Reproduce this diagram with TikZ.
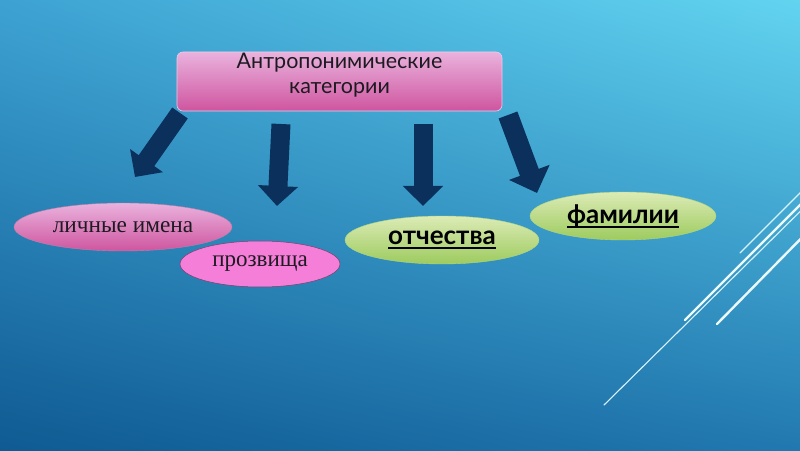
\documentclass[tikz,border=0pt]{standalone}
\usepackage{fontspec}
\setmainfont{Liberation Serif}
\newfontfamily\latofont{Lato}
\usetikzlibrary{shapes.geometric,arrows.meta,shadings}
\definecolor{bgUL}{HTML}{3DA2D2}
\definecolor{bgUR}{HTML}{62D4F0}
\definecolor{bgLL}{HTML}{0F5A92}
\definecolor{bgLR}{HTML}{2178B0}
\definecolor{navyc}{HTML}{0B305C}
\definecolor{pinktop}{HTML}{E9B2DD}
\definecolor{pinkbot}{HTML}{CF559F}
\definecolor{pinkflat}{HTML}{F47ED8}
\definecolor{greentop}{HTML}{DCEBB6}
\definecolor{greenbot}{HTML}{9DCB5E}
\definecolor{textc}{HTML}{1E1A22}
\newcommand\thickul[1]{\setbox0\hbox{#1}\rlap{\rule[-4.5pt]{\wd0}{1.8pt}}\box0}
\begin{document}
\begin{tikzpicture}[x=1pt,y=1pt,
  barrow/.style={draw=navyc, line width=19pt, -{Triangle[width=39pt,length=20pt]}},
  topbox/.style={rounded corners=6pt, minimum width=325pt, minimum height=59pt,
    top color=pinktop, bottom color=pinkbot, draw=pinktop!70!white, line width=0.6pt},
  toptext/.style={align=center, text=textc, font=\fontsize{21.5}{25}\selectfont\latofont},
  pinkell/.style={ellipse, inner sep=0pt, top color=pinktop, bottom color=pinkbot,
    draw=pinkbot!60!black!40!pinktop, line width=0.4pt,
    text=textc, font=\fontsize{23.3}{28}\selectfont},
  flatell/.style={ellipse, inner sep=0pt, fill=pinkflat, draw=pinkflat!50!black, line width=0.5pt,
    text=textc, font=\fontsize{23}{28}\selectfont},
  greenell/.style={ellipse, inner sep=0pt, top color=greentop, bottom color=greenbot,
    draw=greenbot!80!white, line width=0.4pt,
    text=black, font=\fontsize{26}{30}\selectfont\latofont\bfseries},
  thinline/.style={draw=white!85!cyan, line width=1.1pt, line cap=round},
  thickline/.style={draw=white!92!cyan, line width=2.4pt, line cap=round}]
\useasboundingbox (0,0) rectangle (800,450);
\shade[upper left=bgUL, upper right=bgUR, lower left=bgLL, lower right=bgLR] (0,0) rectangle (800,450);
% decorative lines on the right
\begin{scope}
\clip (0,0) rectangle (800,450);
\coordinate (l1a) at (740,197); \coordinate (l1b) at (830,287);
\coordinate (l2a) at (685,130); \coordinate (l2b) at (830,275);
\coordinate (l3a) at (604,45);  \coordinate (l3b) at (830,268);
\coordinate (l4a) at (717,126); \coordinate (l4b) at (830,241);
\draw[thinline] (l1a) -- (l1b);
\draw[thickline] (l2a) -- (l2b);
\draw[thinline] (l3a) -- (l3b);
\draw[thickline] (l4a) -- (l4b);
\end{scope}
% top box
\node[topbox, label={[toptext, yshift=6pt]center:Антропонимические\\категории}] (root) at (339.5,368.5) {};
% ellipses
\node[pinkell, minimum width=218pt, minimum height=48pt] (names) at (123,223) {личные имена};
\node[flatell, minimum width=160pt, minimum height=46pt] (nick) at (260,186) {прозвища};
\node[greenell, minimum width=194pt, minimum height=48pt] (patr) at (442,210) {\thickul{отчества}};
\node[greenell, minimum width=186pt, minimum height=48pt] (fam) at (623,234) {\thickul{фамилии}};
% block arrows
\coordinate (a1s) at (180,337); \coordinate (a1e) at (135,273);
\coordinate (a2s) at (281,326); \coordinate (a2e) at (277,244);
\coordinate (a3s) at (423,326); \coordinate (a3e) at (423,244);
\coordinate (a4s) at (508,335); \coordinate (a4e) at (537,257);
\draw[barrow] (a1s) -- (a1e);
\draw[barrow] (a2s) -- (a2e);
\draw[barrow] (a3s) -- (a3e);
\draw[barrow, line width=20pt, -{Triangle[width=42pt,length=22pt]}] (a4s) -- (a4e);
\end{tikzpicture}
\end{document}
